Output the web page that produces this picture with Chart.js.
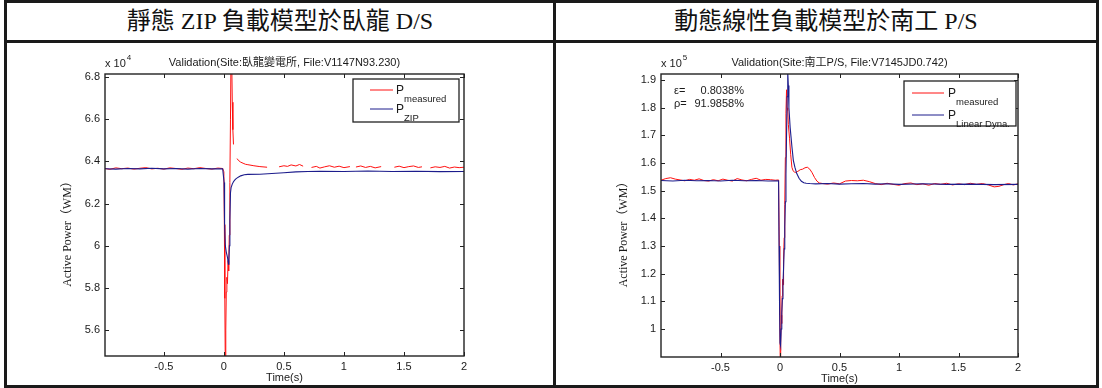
<!DOCTYPE html>
<html>
<head>
<meta charset="utf-8">
<script src="https://cdn.jsdelivr.net/npm/chart.js@4"></script>
<style>
body { margin: 0; background: #fff; }
#page { position: relative; width: 1102px; height: 388px; overflow: hidden; }
.rule { position: absolute; background: #1a1a1a; }
.head { position: absolute; top: 3px; height: 37px; line-height: 37px; text-align: center;
        font-family: "Liberation Serif", "Noto Sans CJK TC", serif; font-size: 24px; color: #111; white-space: nowrap; }
canvas { position: absolute; }
</style>
</head>
<body>
<div id="page">
  <div class="rule" style="left:4px;top:0;width:1095px;height:3px"></div>
  <div class="rule" style="left:4px;top:40px;width:1095px;height:3px"></div>
  <div class="rule" style="left:4px;top:385px;width:1095px;height:3px"></div>
  <div class="rule" style="left:4px;top:0;width:3px;height:388px"></div>
  <div class="rule" style="left:553px;top:0;width:3px;height:388px"></div>
  <div class="rule" style="left:1096px;top:0;width:3px;height:388px"></div>
  <div class="head" style="left:7px;width:546px">靜態 ZIP 負載模型於臥龍 D/S</div>
  <div class="head" style="left:556px;width:540px">動態線性負載模型於南工 P/S</div>
  <canvas id="zipChart" width="545" height="341" style="left:7px;top:44px"></canvas>
  <canvas id="dynChart" width="539" height="341" style="left:557px;top:44px"></canvas>
</div>
<script>
// time axis ticks (s)
var xTicks = [-0.5, 0, 0.5, 1, 1.5, 2];

// ---- left: static ZIP model, values x 10^4
var zipTicks = [5.6, 5.8, 6, 6.2, 6.4, 6.6, 6.8];
var zipMeasTime = [-0.99,-0.95,-0.9,-0.85,-0.8,-0.75,-0.7,-0.65,-0.6,-0.55,-0.5,-0.45,-0.4,-0.35,-0.3,-0.25,-0.2,-0.15,-0.1,-0.05,-0.01,
  0,0.004,0.008,0.012,0.016,0.02,0.025,0.03,0.035,0.04,0.045,0.05,0.055,0.06,0.065,0.07,0.075,0.08,0.095,
  0.11,0.12,0.14,0.16,0.18,0.2,0.25,0.3,0.36,0.4,
  0.46,0.5,0.53,0.56,0.6,0.63,0.66,0.7,
  0.73,0.77,0.8,0.84,0.88,0.92,0.96,1.0,1.05,1.08,
  1.1,1.14,1.18,1.22,1.26,1.31,1.36,
  1.42,1.46,1.5,1.54,1.58,1.62,1.65,1.69,
  1.72,1.76,1.8,1.84,1.88,1.92,1.96,2.0];
var zipMeasured = [6.366,6.362,6.369,6.365,6.368,6.363,6.367,6.370,6.364,6.367,6.363,6.369,6.366,6.362,6.368,6.365,6.370,6.366,6.363,6.368,6.366,
  6.350,6.100,5.750,5.420,5.600,5.780,5.850,5.820,5.930,5.880,6.050,6.300,6.600,6.950,6.900,6.680,6.550,6.480,null,
  6.413,6.405,6.396,6.391,6.386,6.384,6.379,6.375,6.372,null,
  6.374,6.379,6.376,6.383,6.378,6.385,6.377,null,
  6.371,6.376,6.368,6.374,6.379,6.372,6.377,6.370,6.375,null,
  6.373,6.378,6.371,6.376,6.369,6.375,null,
  6.372,6.377,6.370,6.375,6.378,6.371,6.374,null,
  6.369,6.374,6.371,6.376,6.368,6.373,6.370,6.372];
var zipModelTime = [-0.99,-0.9,-0.8,-0.7,-0.6,-0.5,-0.4,-0.3,-0.2,-0.1,-0.01,
  0.002,0.006,0.012,0.02,0.03,0.038,0.042,0.046,0.05,0.055,0.06,0.07,0.08,0.09,0.1,0.12,0.14,0.17,0.2,
  0.3,0.4,0.5,0.6,0.7,0.8,1.0,1.2,1.4,1.6,1.8,2.0];
var zipModel = [6.365,6.363,6.366,6.364,6.367,6.364,6.366,6.363,6.366,6.364,6.365,
  6.300,6.100,6.000,5.970,5.945,5.912,5.930,6.000,6.120,6.250,6.275,6.292,6.303,6.311,6.317,6.325,6.331,6.336,6.338,
  6.339,6.342,6.346,6.350,6.352,6.353,6.352,6.354,6.352,6.353,6.351,6.352];

// ---- right: dynamic linear model, values x 10^5
var dynTicks = [1, 1.1, 1.2, 1.3, 1.4, 1.5, 1.6, 1.7, 1.8, 1.9];
var dynMeasTime = [-1.0,-0.96,-0.92,-0.88,-0.84,-0.8,-0.76,-0.72,-0.68,-0.64,-0.6,-0.56,-0.52,-0.48,-0.44,-0.4,-0.36,-0.32,-0.28,-0.24,-0.2,-0.16,-0.12,-0.08,-0.04,-0.012,
  -0.006,-0.002,0.002,0.006,0.01,0.014,0.018,0.022,0.026,0.03,0.035,0.04,0.045,0.05,0.055,0.06,0.065,0.07,0.08,0.09,
  0.1,0.11,0.12,0.13,0.15,0.17,0.19,0.21,0.23,0.25,0.27,0.29,0.31,0.33,0.36,
  0.4,0.45,0.5,0.55,0.6,0.65,0.7,0.75,0.8,0.85,0.9,0.95,1.0,1.05,1.1,1.15,1.2,1.25,1.3,1.35,
  1.4,1.45,1.5,1.55,1.6,1.65,1.7,1.75,1.8,1.84,1.88,1.92,1.96,2.0];
var dynMeasured = [1.538,1.544,1.547,1.542,1.539,1.536,1.541,1.538,1.543,1.537,1.535,1.540,1.536,1.542,1.538,1.535,1.544,1.539,1.536,1.541,1.545,1.538,1.541,1.540,1.538,1.539,
  1.300,1.050,0.880,0.950,1.050,1.020,1.120,1.180,1.160,1.250,1.330,1.450,1.620,1.780,1.865,1.800,1.790,1.740,1.690,1.630,
  1.585,1.572,1.568,1.566,1.570,1.576,1.578,1.583,1.585,1.578,1.565,1.548,1.535,1.528,1.526,
  1.524,1.528,1.525,1.535,1.537,1.536,1.538,1.533,1.526,1.522,1.527,1.523,1.520,1.526,1.528,1.522,1.525,1.520,1.526,1.523,
  1.527,1.521,1.525,1.522,1.527,1.523,1.526,1.521,1.514,1.516,1.522,1.526,1.521,1.525];
var dynModelTime = [-1.0,-0.9,-0.8,-0.7,-0.6,-0.5,-0.4,-0.3,-0.2,-0.1,-0.012,
  -0.008,-0.004,0,0.005,0.01,0.015,0.02,0.025,0.03,0.035,0.04,0.045,0.05,0.055,0.06,0.065,0.07,0.075,0.085,0.1,
  0.112,0.125,0.14,0.16,0.18,0.2,0.22,0.25,
  0.3,0.4,0.5,0.6,0.7,0.8,0.9,1.0,1.2,1.4,1.6,1.8,2.0];
var dynModel = [1.537,1.535,1.538,1.536,1.537,1.535,1.538,1.536,1.537,1.535,1.536,
  1.300,1.100,0.950,0.940,1.000,1.060,1.110,1.160,1.220,1.290,1.370,1.460,1.560,1.700,1.840,1.930,1.880,1.800,1.730,1.660,
  1.610,1.585,1.563,1.545,1.534,1.529,1.527,1.526,
  1.525,1.526,1.524,1.525,1.526,1.524,1.525,1.523,1.525,1.523,1.524,1.522,1.523];

var SANS = '"Liberation Sans", Arial, "Noto Sans CJK TC", sans-serif';
var SERIF = '"Liberation Serif", "Times New Roman", "Noto Sans CJK TC", serif';
Chart.defaults.font.family = SANS;
Chart.defaults.font.size = 11;
Chart.defaults.color = '#1a1a1a';

function toPoints(ts, vs) {
  return ts.map(function (t, i) { return { x: t, y: vs[i] }; });
}

// box, inward ticks, titles, legend - matlab look
var matlabFrame = {
  id: 'matlabFrame',
  afterDatasetsDraw: function (chart, args, o) {
    var ctx = chart.ctx, a = chart.chartArea;
    var xs = chart.scales.x, ys = chart.scales.y;
    var cx = (a.left + a.right) / 2;
    ctx.save();
    ctx.strokeStyle = '#222';
    ctx.lineWidth = 1.4;
    ctx.strokeRect(a.left, a.top, a.right - a.left, a.bottom - a.top);
    ctx.lineWidth = 1;
    ctx.beginPath();
    xs.ticks.forEach(function (t) {
      var p = Math.round(xs.getPixelForValue(t.value)) + 0.5;
      ctx.moveTo(p, a.bottom); ctx.lineTo(p, a.bottom - 4);
      ctx.moveTo(p, a.top); ctx.lineTo(p, a.top + 4);
    });
    ys.ticks.forEach(function (t) {
      var p = Math.round(ys.getPixelForValue(t.value)) + 0.5;
      ctx.moveTo(a.left, p); ctx.lineTo(a.left + 4, p);
      ctx.moveTo(a.right, p); ctx.lineTo(a.right - 4, p);
    });
    ctx.stroke();

    ctx.fillStyle = '#1a1a1a';
    ctx.textBaseline = 'alphabetic';
    ctx.font = '11px ' + SANS;
    ctx.textAlign = 'center';
    ctx.fillText(o.title, cx, a.top - 8);
    ctx.textAlign = 'left';
    ctx.fillText('x 10', a.left, a.top - 7);
    var w = ctx.measureText('x 10').width;
    ctx.font = '8px ' + SANS;
    ctx.fillText(o.exponent, a.left + w + 1, a.top - 14);

    ctx.font = '11px ' + SANS;
    ctx.textAlign = 'center';
    ctx.textBaseline = 'middle';
    ctx.fillText('Time(s)', cx, a.bottom + 22);

    ctx.save();
    ctx.translate(a.left - 37, (a.top + a.bottom) / 2 + 16);
    ctx.rotate(-Math.PI / 2);
    ctx.font = '12px ' + SERIF;
    ctx.fillText(o.yTitle, 0, 0);
    ctx.restore();

    ctx.textBaseline = 'alphabetic';
    ctx.font = '11px ' + SANS;
    (o.notes || []).forEach(function (n, i) {
      var by = a.top + 20 + i * 13;
      ctx.textAlign = 'left';
      ctx.fillText(n[0], a.left + 13, by);
      ctx.textAlign = 'right';
      ctx.fillText(n[1], a.left + 83, by);
    });

    var L = o.legend;
    var bx = a.right - L.offsetRight - L.width, by0 = a.top + L.offsetTop;
    ctx.fillStyle = '#fff';
    ctx.fillRect(bx, by0, L.width, L.height);
    ctx.strokeStyle = '#222';
    ctx.lineWidth = 1.3;
    ctx.strokeRect(bx, by0, L.width, L.height);
    L.items.forEach(function (it, i) {
      var ly = by0 + L.first + i * L.row;
      ctx.strokeStyle = it.color;
      ctx.lineWidth = 1;
      ctx.beginPath();
      ctx.moveTo(bx + L.lineX0, ly); ctx.lineTo(bx + L.lineX1, ly);
      ctx.stroke();
      ctx.fillStyle = '#1a1a1a';
      ctx.textAlign = 'left';
      ctx.font = '12px ' + SANS;
      ctx.fillText('P', bx + L.textX, ly + 4);
      var pw = ctx.measureText('P').width;
      ctx.font = '9.5px ' + SANS;
      ctx.fillText(it.sub, bx + L.textX + pw, ly + 12);
    });
    ctx.restore();
  }
};

function makeChart(id, c) {
  return new Chart(document.getElementById(id), {
    type: 'line',
    data: {
      datasets: [
        { label: 'P measured', data: toPoints(c.measTime, c.meas), borderColor: '#ff1010', borderWidth: 1,
          pointRadius: 0, spanGaps: false, order: 1 },
        { label: c.modelLabel, data: toPoints(c.modelTime, c.model), borderColor: '#1c1c8c', borderWidth: 1.1,
          pointRadius: 0, order: 0 }
      ]
    },
    options: {
      responsive: false,
      animation: false,
      layout: { padding: { left: 0, top: 30, right: c.padRight, bottom: 0 } },
      plugins: {
        legend: { display: false },
        tooltip: { enabled: false },
        matlabFrame: c.frame
      },
      scales: {
        x: {
          type: 'linear', min: c.xMin, max: 2,
          grid: { display: false, drawTicks: false }, border: { display: false },
          ticks: { padding: 4, maxRotation: 0, callback: function (v) { return String(+v.toFixed(2)); } },
          afterBuildTicks: function (s) { s.ticks = xTicks.map(function (v) { return { value: v }; }); },
          afterFit: function (s) { s.height = c.xAxisH; }
        },
        y: {
          type: 'linear', min: c.yMin, max: c.yMax,
          grid: { display: false, drawTicks: false }, border: { display: false },
          ticks: { padding: 5, callback: function (v) { return String(+v.toFixed(2)); } },
          afterBuildTicks: function (s) { s.ticks = c.yTicks.map(function (v) { return { value: v }; }); },
          afterFit: function (s) { s.width = c.yAxisW; }
        }
      }
    },
    plugins: [matlabFrame]
  });
}

makeChart('zipChart', {
  measTime: zipMeasTime, meas: zipMeasured, modelTime: zipModelTime, model: zipModel, modelLabel: 'P ZIP',
  xMin: -0.99, yMin: 5.477, yMax: 6.814, yTicks: zipTicks,
  padRight: 88, xAxisH: 29, yAxisW: 98,
  frame: {
    title: 'Validation(Site:臥龍變電所, File:V1147N93.230)', exponent: '4', yTitle: 'Active Power（WM）',
    legend: { width: 106, height: 43, offsetRight: 5, offsetTop: 5, first: 11, row: 19, lineX0: 17, lineX1: 40, textX: 43,
      items: [{ sub: 'measured', color: '#ff1010' }, { sub: 'ZIP', color: '#1c1c8c' }] }
  }
});

makeChart('dynChart', {
  measTime: dynMeasTime, meas: dynMeasured, modelTime: dynModelTime, model: dynModel, modelLabel: 'P Linear Dyna.',
  xMin: -1.0, yMin: 0.899, yMax: 1.922, yTicks: dynTicks,
  padRight: 78, xAxisH: 28, yAxisW: 104,
  frame: {
    title: 'Validation(Site:南工P/S, File:V7145JD0.742)', exponent: '5', yTitle: 'Active Power（WM）',
    notes: [['ε=', '0.8038%'], ['ρ=', '91.9858%']],
    legend: { width: 112, height: 45, offsetRight: 2, offsetTop: 7, first: 12, row: 22, lineX0: 8, lineX1: 40, textX: 44,
      items: [{ sub: 'measured', color: '#ff1010' }, { sub: 'Linear Dyna.', color: '#1c1c8c' }] }
  }
});
</script>
</body>
</html>
